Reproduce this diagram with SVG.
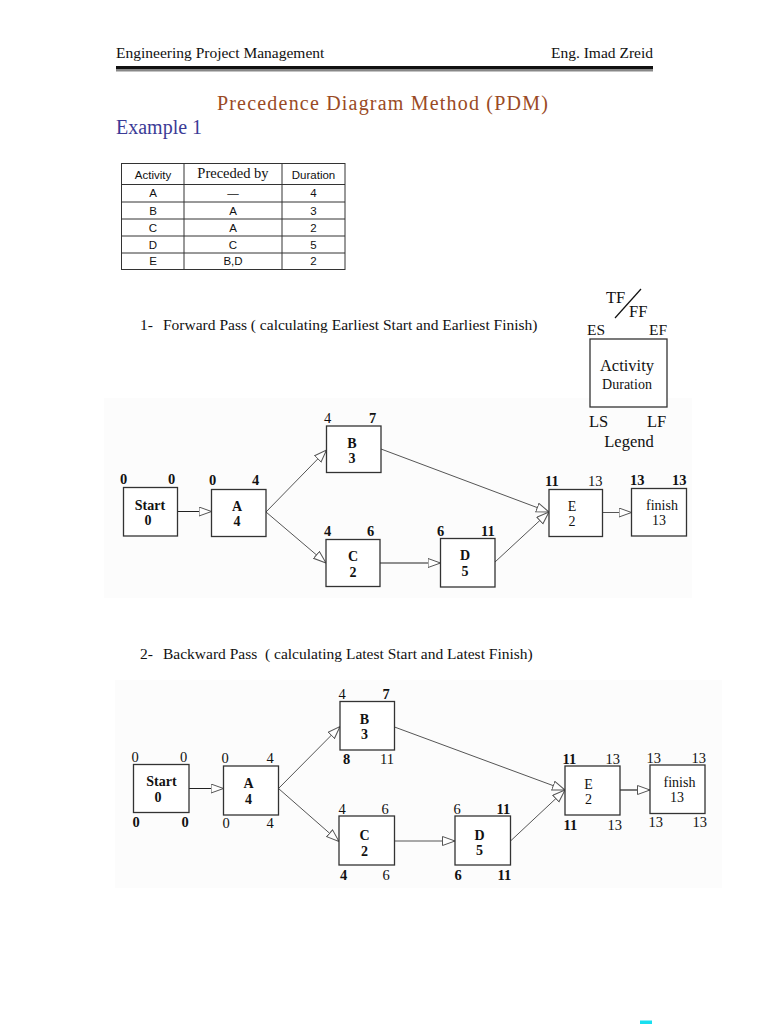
<svg xmlns="http://www.w3.org/2000/svg" width="768" height="1024" viewBox="0 0 768 1024">
<style>
.serif{font-family:"Liberation Serif","Times New Roman",serif;fill:#111}
.sans{font-family:"Liberation Sans",Arial,sans-serif;fill:#111}
.hdr{font-size:15.5px}
.box{fill:#fff;stroke:#333;stroke-width:1.3}
.lbl{font-family:"Liberation Serif","Times New Roman",serif;font-size:14px;fill:#111;text-anchor:middle}
.lb{font-weight:bold}
.num{font-family:"Liberation Serif","Times New Roman",serif;font-size:14.5px;fill:#111}
.tb{fill:none;stroke:#333;stroke-width:1}
.tc{font-family:"Liberation Sans",Arial,sans-serif;font-size:11.5px;fill:#111;text-anchor:middle}
.con{fill:none;stroke:#555;stroke-width:1;marker-end:url(#arr)}
.conh{fill:none;stroke:#222;stroke-width:1.2;marker-end:url(#arr)}
</style>
<defs>
<marker id="arr" markerUnits="userSpaceOnUse" markerWidth="15" markerHeight="11" refX="13" refY="5" orient="auto">
<path d="M0.5,0.5 L13,5 L0.5,9.5 Z" fill="#fff" stroke="#555" stroke-width="1"/>
</marker>
</defs>
<rect width="768" height="1024" fill="#fff"/>

<!-- faint backgrounds -->
<rect x="104" y="398" width="588" height="200" fill="#fcfcfc"/>
<rect x="115" y="680" width="607" height="208" fill="#fcfcfc"/>

<!-- header -->
<text class="serif hdr" x="116" y="58">Engineering Project Management</text>
<text class="serif hdr" x="653" y="58" text-anchor="end">Eng. Imad Zreid</text>
<rect x="116" y="66" width="537" height="3" fill="#111"/>
<rect x="116" y="69" width="537" height="2.5" fill="#888"/>

<text class="serif" x="383" y="110" font-size="20" letter-spacing="1.2" text-anchor="middle" style="fill:#9a4a24">Precedence Diagram Method (PDM)</text>
<text class="serif" x="116" y="134" font-size="20" style="fill:#3b3b96">Example 1</text>

<!-- table -->
<g id="table">
<rect class="tb" x="121.5" y="163.5" width="223.5" height="106"/>
<line class="tb" x1="184" y1="163.5" x2="184" y2="269.5"/>
<line class="tb" x1="282" y1="163.5" x2="282" y2="269.5"/>
<line class="tb" x1="121.5" y1="184.5" x2="345" y2="184.5"/>
<line class="tb" x1="121.5" y1="202" x2="345" y2="202"/>
<line class="tb" x1="121.5" y1="219" x2="345" y2="219"/>
<line class="tb" x1="121.5" y1="236" x2="345" y2="236"/>
<line class="tb" x1="121.5" y1="253" x2="345" y2="253"/>
<text class="tc" x="153" y="179" font-size="12">Activity</text>
<text class="serif" x="233" y="178" font-size="14.5" text-anchor="middle">Preceded by</text>
<text class="tc" x="313.5" y="179" font-size="12">Duration</text>
<text class="tc" x="153" y="197">A</text><text class="tc" x="233" y="197">—</text><text class="tc" x="313.5" y="197">4</text>
<text class="tc" x="153" y="214.5">B</text><text class="tc" x="233" y="214.5">A</text><text class="tc" x="313.5" y="214.5">3</text>
<text class="tc" x="153" y="231.5">C</text><text class="tc" x="233" y="231.5">A</text><text class="tc" x="313.5" y="231.5">2</text>
<text class="tc" x="153" y="248.5">D</text><text class="tc" x="233" y="248.5">C</text><text class="tc" x="313.5" y="248.5">5</text>
<text class="tc" x="153" y="265">E</text><text class="tc" x="233" y="265">B,D</text><text class="tc" x="313.5" y="265">2</text>
</g>

<!-- legend -->
<g id="legend">
<text class="serif" x="606" y="303" font-size="16.5">TF</text>
<line x1="615" y1="318" x2="641" y2="289" stroke="#111" stroke-width="1.2"/>
<text class="serif" x="629" y="317" font-size="16.5">FF</text>
<text class="serif" x="587" y="335" font-size="15.5">ES</text>
<text class="serif" x="649" y="335" font-size="15.5">EF</text>
<rect class="box" x="590" y="339" width="77" height="68"/>
<text class="serif" x="627" y="371" font-size="16.5" text-anchor="middle">Activity</text>
<text class="serif" x="627" y="389" font-size="14" text-anchor="middle">Duration</text>
<text class="serif" x="589" y="427" font-size="16.5">LS</text>
<text class="serif" x="647" y="427" font-size="16.5">LF</text>
<text class="serif" x="629" y="447" font-size="16.5" text-anchor="middle">Legend</text>
</g>

<text class="serif" x="140" y="330" font-size="15.5">1-</text>
<text class="serif" x="163" y="330" font-size="15.5">Forward Pass ( calculating Earliest Start and Earliest Finish)</text>
<text class="serif" x="140" y="659" font-size="15.5">2-</text>
<text class="serif" x="163" y="659" font-size="15.5" xml:space="preserve">Backward Pass  ( calculating Latest Start and Latest Finish)</text>

<!-- connectors -->
<g id="connectors">
<line class="conh" x1="177.5" y1="511.5" x2="211.5" y2="511.5"/>
<line class="con" x1="266" y1="512" x2="326.5" y2="450"/>
<line class="con" x1="266" y1="512" x2="326" y2="563"/>
<line class="conh" x1="380" y1="563" x2="440.5" y2="563"/>
<line class="con" x1="381" y1="449" x2="549" y2="512"/>
<line class="con" x1="495" y1="562" x2="549" y2="512"/>
<line class="con" x1="602.5" y1="512.5" x2="631.5" y2="512.5"/>

<line class="conh" x1="189" y1="788.5" x2="223.5" y2="788.5"/>
<line class="con" x1="278.5" y1="788.5" x2="340" y2="726.5"/>
<line class="con" x1="278.5" y1="788.5" x2="339" y2="841.5"/>
<line class="con" x1="394.5" y1="841" x2="455" y2="841"/>
<line class="con" x1="394.5" y1="727" x2="565" y2="790"/>
<line class="con" x1="510.5" y1="841" x2="565" y2="790"/>
<line class="conh" x1="620" y1="790" x2="650" y2="790"/>
</g>

<!-- diagram 1 nodes -->
<g id="d1-start">
<rect class="box" x="123.5" y="487.5" width="54" height="48.5"/>
<text class="lbl lb" x="150" y="510">Start</text><text class="lbl lb" x="148" y="525">0</text>
<text class="num lb" x="120" y="484">0</text><text class="num lb" x="168" y="484">0</text>
</g>
<g id="d1-A">
<rect class="box" x="211.5" y="489.5" width="54.5" height="47"/>
<text class="lbl lb" x="237" y="511">A</text><text class="lbl lb" x="237" y="526">4</text>
<text class="num lb" x="209" y="485">0</text><text class="num lb" x="252" y="485">4</text>
</g>
<g id="d1-B">
<rect class="box" x="326.5" y="426" width="54.5" height="46.5"/>
<text class="lbl lb" x="352" y="448">B</text><text class="lbl lb" x="352" y="463">3</text>
<text class="num" x="324" y="422.5">4</text><text class="num lb" x="369" y="422.5">7</text>
</g>
<g id="d1-C">
<rect class="box" x="326" y="539.5" width="54" height="47"/>
<text class="lbl lb" x="353" y="561">C</text><text class="lbl lb" x="353" y="577">2</text>
<text class="num lb" x="324" y="536">4</text><text class="num lb" x="367" y="536">6</text>
</g>
<g id="d1-D">
<rect class="box" x="440.5" y="538.5" width="54.5" height="48.5"/>
<text class="lbl lb" x="465" y="560">D</text><text class="lbl lb" x="465" y="576">5</text>
<text class="num lb" x="437" y="536">6</text><text class="num lb" x="481" y="536">11</text>
</g>
<g id="d1-E">
<rect class="box" x="549" y="489.5" width="53.5" height="47"/>
<text class="lbl" x="572" y="511">E</text><text class="lbl" x="572" y="526">2</text>
<text class="num lb" x="545" y="486">11</text><text class="num" x="588" y="486">13</text>
</g>
<g id="d1-finish">
<rect class="box" x="631.5" y="488.5" width="55" height="47.5"/>
<text class="lbl" x="662" y="509.5">finish</text><text class="lbl" x="659" y="524.5">13</text>
<text class="num lb" x="630" y="485">13</text><text class="num lb" x="672" y="485">13</text>
</g>

<!-- diagram 2 nodes -->
<g id="d2-start">
<rect class="box" x="133.5" y="764.5" width="55.5" height="48"/>
<text class="lbl lb" x="161.5" y="786">Start</text><text class="lbl lb" x="158" y="801.5">0</text>
<text class="num" x="131.5" y="761.5">0</text><text class="num" x="180" y="761.5">0</text>
<text class="num lb" x="132.5" y="826.5">0</text><text class="num lb" x="181.5" y="826.5">0</text>
</g>
<g id="d2-A">
<rect class="box" x="223.5" y="766" width="55" height="49"/>
<text class="lbl lb" x="248.5" y="787.5">A</text><text class="lbl lb" x="248.5" y="803.5">4</text>
<text class="num" x="221.5" y="762.5">0</text><text class="num" x="266.5" y="762.5">4</text>
<text class="num" x="222.5" y="827.5">0</text><text class="num" x="266.5" y="827.5">4</text>
</g>
<g id="d2-B">
<rect class="box" x="340" y="701.5" width="54.5" height="48.5"/>
<text class="lbl lb" x="364.5" y="723.5">B</text><text class="lbl lb" x="364.5" y="739">3</text>
<text class="num" x="338.5" y="698.5">4</text><text class="num lb" x="382.5" y="698.5">7</text>
<text class="num lb" x="343" y="763.5">8</text><text class="num" x="380" y="763.5">11</text>
</g>
<g id="d2-C">
<rect class="box" x="339" y="816" width="55.5" height="49"/>
<text class="lbl lb" x="364.5" y="840">C</text><text class="lbl lb" x="364.5" y="855.5">2</text>
<text class="num" x="338.5" y="813.5">4</text><text class="num" x="381.5" y="813.5">6</text>
<text class="num lb" x="340" y="879.5">4</text><text class="num" x="382.5" y="879.5">6</text>
</g>
<g id="d2-D">
<rect class="box" x="455" y="816" width="55.5" height="49"/>
<text class="lbl lb" x="479.5" y="839.5">D</text><text class="lbl lb" x="479.5" y="855">5</text>
<text class="num" x="453.5" y="813.5">6</text><text class="num lb" x="496.5" y="813.5">11</text>
<text class="num lb" x="454.5" y="879.5">6</text><text class="num lb" x="497.5" y="879.5">11</text>
</g>
<g id="d2-E">
<rect class="box" x="565" y="766" width="55" height="49"/>
<text class="lbl" x="588.5" y="788.5">E</text><text class="lbl" x="588.5" y="803.5">2</text>
<text class="num lb" x="562.5" y="763.5">11</text><text class="num" x="605.5" y="763.5">13</text>
<text class="num lb" x="563.5" y="829.5">11</text><text class="num" x="607.5" y="829.5">13</text>
</g>
<g id="d2-finish">
<rect class="box" x="650" y="765" width="55" height="48.5"/>
<text class="lbl" x="679.5" y="787">finish</text><text class="lbl" x="677" y="802">13</text>
<text class="num" x="646.5" y="763">13</text><text class="num" x="691.5" y="763">13</text>
<text class="num" x="648.5" y="827">13</text><text class="num" x="692.5" y="827">13</text>
</g>

<rect x="640" y="1020.5" width="12" height="3.5" fill="#19dff0"/>
</svg>
